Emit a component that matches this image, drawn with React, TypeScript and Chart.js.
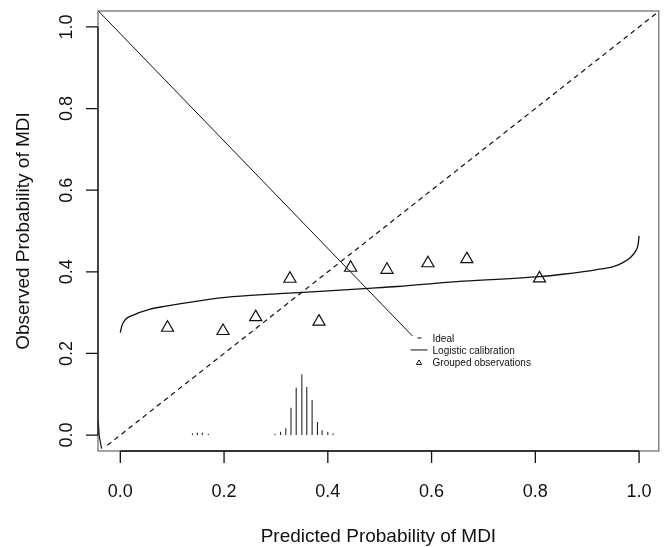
import React, { useEffect, useRef } from "react";
import { Chart, registerables } from "chart.js";

Chart.register(...registerables);

// ---- data ----
const tickValues = [0, 0.2, 0.4, 0.6, 0.8, 1.0];
const tickLabels = ["0.0", "0.2", "0.4", "0.6", "0.8", "1.0"];

const xTitle = "Predicted Probability of MDI";
const yTitle = "Observed Probability of MDI";

const legendLabels = ["Ideal", "Logistic calibration", "Grouped observations"];

// ideal (dashed) line
const idealX = [-0.025, 1.04];
const idealY = [-0.025, 1.04];

// solid diagonal running from the top-left corner to the legend
const connX = [-0.043, 0.563];
const connY = [1.04, 0.243];

// logistic calibration curve
const curveX = [0.0, 0.003, 0.009, 0.025, 0.056, 0.088, 0.152, 0.216, 0.343, 0.47, 0.534, 0.661, 0.808, 0.853, 0.917, 0.95, 0.968, 0.985, 0.993, 0.998, 1.0];
const curveY = [0.251, 0.268, 0.282, 0.294, 0.308, 0.316, 0.329, 0.339, 0.349, 0.359, 0.364, 0.377, 0.388, 0.394, 0.405, 0.413, 0.422, 0.437, 0.45, 0.466, 0.488];

// small tail at the bottom-left edge
const tailX = [-0.0425, -0.0405, -0.036];
const tailY = [0.033, -0.004, -0.033];

// grouped observations (triangles)
const obsX = [0.091, 0.198, 0.261, 0.327, 0.383, 0.444, 0.514, 0.593, 0.668, 0.808];
const obsY = [0.263, 0.255, 0.289, 0.383, 0.278, 0.41, 0.405, 0.421, 0.431, 0.384];

// distribution spikes at the bottom
const spikeX = [0.139, 0.1485, 0.158, 0.1696, 0.298, 0.309, 0.319, 0.329, 0.339, 0.35, 0.3595, 0.3697, 0.38, 0.389, 0.4, 0.41];
const spikeH = [0.004, 0.006, 0.006, 0.003, 0.003, 0.008, 0.017, 0.067, 0.116, 0.149, 0.118, 0.086, 0.032, 0.012, 0.008, 0.004];

const FONT = '"Liberation Sans", Arial, sans-serif';

const pts = (xs: number[], ys: number[]) => xs.map((x, i) => ({ x, y: ys[i] }));

const spikeData = () => {
  const out: { x: number; y: number | null }[] = [];
  spikeX.forEach((x, i) => {
    out.push({ x, y: 0 });
    out.push({ x, y: spikeH[i] });
    out.push({ x, y: null });
  });
  return out;
};

const framePlugin = {
  id: "rframe",
  afterDraw(chart: any) {
    const { ctx, chartArea: a, scales } = chart;
    const xs = scales.x;
    const ys = scales.y;
    ctx.save();
    // box
    ctx.strokeStyle = "#666";
    ctx.lineWidth = 1.2;
    ctx.strokeRect(a.left, a.top, a.right - a.left, a.bottom - a.top);
    // axis lines
    ctx.strokeStyle = "#111";
    ctx.lineWidth = 1.3;
    ctx.beginPath();
    ctx.moveTo(xs.getPixelForValue(tickValues[0]), a.bottom);
    ctx.lineTo(xs.getPixelForValue(tickValues[tickValues.length - 1]), a.bottom);
    ctx.moveTo(a.left, ys.getPixelForValue(tickValues[0]));
    ctx.lineTo(a.left, ys.getPixelForValue(tickValues[tickValues.length - 1]));
    ctx.stroke();
    // ticks
    const tl = 12;
    ctx.beginPath();
    tickValues.forEach((v) => {
      const px = xs.getPixelForValue(v);
      ctx.moveTo(px, a.bottom);
      ctx.lineTo(px, a.bottom + tl);
      const py = ys.getPixelForValue(v);
      ctx.moveTo(a.left, py);
      ctx.lineTo(a.left - tl, py);
    });
    ctx.stroke();
    // tick labels
    ctx.fillStyle = "#111";
    ctx.font = `18px ${FONT}`;
    ctx.textAlign = "center";
    ctx.textBaseline = "middle";
    tickValues.forEach((v, i) => {
      ctx.fillText(tickLabels[i], xs.getPixelForValue(v), a.bottom + 41);
    });
    tickValues.forEach((v, i) => {
      ctx.save();
      ctx.translate(a.left - 31, ys.getPixelForValue(v));
      ctx.rotate(-Math.PI / 2);
      ctx.fillText(tickLabels[i], 0, 0);
      ctx.restore();
    });
    // titles
    ctx.font = `19px ${FONT}`;
    ctx.fillText(xTitle, (a.left + a.right) / 2, a.bottom + 86);
    ctx.save();
    ctx.translate(a.left - 74, (a.top + a.bottom) / 2);
    ctx.rotate(-Math.PI / 2);
    ctx.fillText(yTitle, 0, 0);
    ctx.restore();

    // legend (anchored in data coordinates)
    const lx = xs.getPixelForValue(0.571);
    const ly = ys.getPixelForValue(0.238);
    ctx.font = `10px ${FONT}`;
    ctx.textAlign = "left";
    const gap = 12;
    legendLabels.forEach((t, i) => ctx.fillText(t, lx + 16, ly + i * gap + 1));
    ctx.strokeStyle = "#111";
    ctx.lineWidth = 1;
    ctx.beginPath();
    ctx.moveTo(lx + 1, ly);
    ctx.lineTo(lx + 5, ly);
    ctx.moveTo(lx - 6, ly + gap);
    ctx.lineTo(lx + 11, ly + gap);
    ctx.stroke();
    // small triangle
    const tx = lx + 2.5;
    const ty = ly + 2 * gap + 1;
    const r = 3;
    ctx.beginPath();
    ctx.moveTo(tx, ty - r);
    ctx.lineTo(tx + r * 0.866, ty + r / 2);
    ctx.lineTo(tx - r * 0.866, ty + r / 2);
    ctx.closePath();
    ctx.stroke();
    ctx.restore();
  },
};

export default function App() {
  const ref = useRef<HTMLCanvasElement | null>(null);
  useEffect(() => {
    if (!ref.current) return;
    const lineDs = (data: any[], extra: any = {}) => ({
      type: "scatter" as const,
      data,
      showLine: true,
      borderColor: "#111",
      borderWidth: 1.2,
      pointRadius: 0,
      fill: false,
      spanGaps: false,
      ...extra,
    });
    const chart = new Chart(ref.current, {
      type: "scatter",
      data: {
        datasets: [
          lineDs(pts(idealX, idealY), { borderDash: [5, 4] }),
          lineDs(pts(connX, connY), { borderWidth: 1 }),
          lineDs(pts(curveX, curveY), { cubicInterpolationMode: "monotone", borderWidth: 1.3 }),
          lineDs(pts(tailX, tailY), { borderWidth: 1.2 }),
          lineDs(spikeData(), { borderWidth: 1 }),
          {
            type: "scatter" as const,
            data: pts(obsX, obsY),
            pointStyle: "triangle",
            pointRadius: 7,
            borderColor: "#111",
            borderWidth: 1.2,
            backgroundColor: "rgba(0,0,0,0)",
          },
        ] as any,
      },
      options: {
        animation: false,
        responsive: false,
        devicePixelRatio: 1,
        layout: { padding: { left: 98, top: 11, right: 3, bottom: 96 } },
        plugins: { legend: { display: false }, tooltip: { enabled: false } },
        scales: {
          x: { type: "linear", min: -0.043, max: 1.038, display: false },
          y: { type: "linear", min: -0.039, max: 1.039, display: false },
        },
      },
      plugins: [framePlugin],
    });
    return () => chart.destroy();
  }, []);
  return (
    <div style={{ position: "absolute", left: 0, top: 0, width: 667, height: 547, background: "#fff" }}>
      <canvas ref={ref} width={667} height={547} style={{ width: 667, height: 547 }} />
    </div>
  );
}
